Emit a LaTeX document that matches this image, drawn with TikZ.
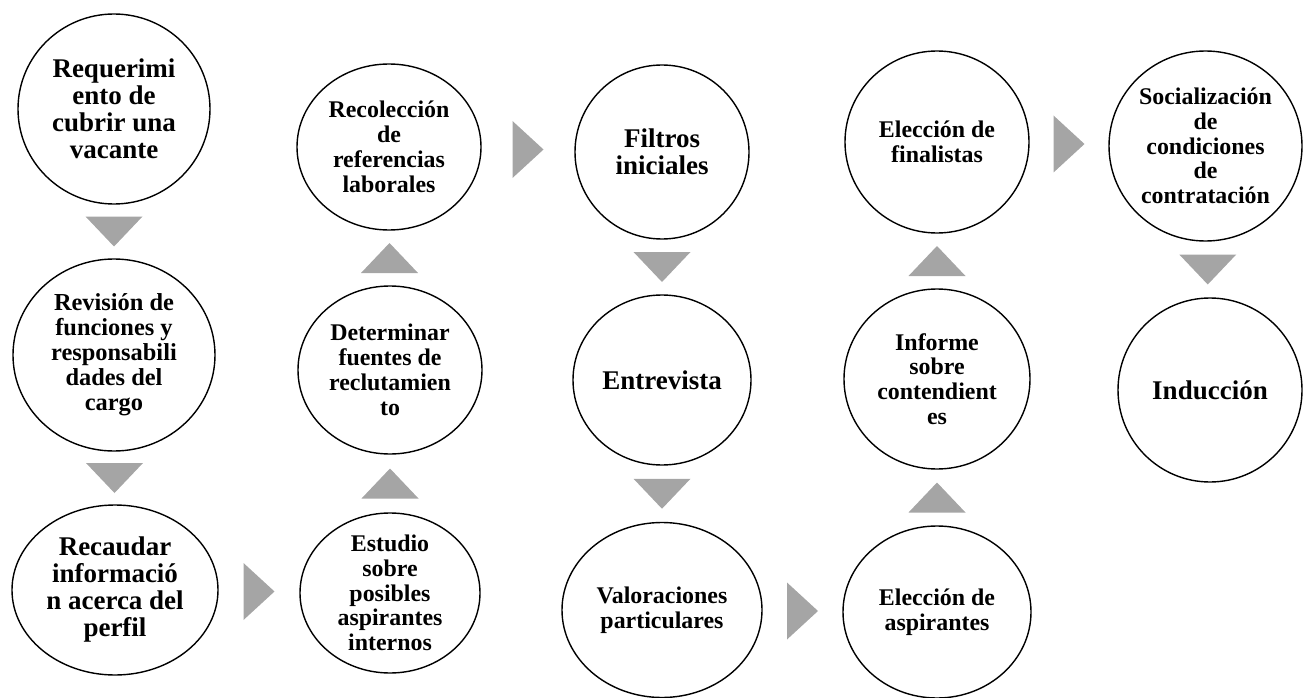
\documentclass[tikz,border=0pt]{standalone}
\usepackage{fontspec}
\setmainfont{Liberation Serif}
\usetikzlibrary{shapes.geometric,calc}
\definecolor{chevron}{HTML}{A5A5A5}
\tikzset{
  stage/.style={ellipse, draw=black, line width=1.4pt, inner sep=0pt},
  biglabel/.style={align=center, inner sep=0pt,
    font=\fontsize{27}{27}\selectfont\bfseries},
  smalllabel/.style={align=center, inner sep=0pt,
    font=\fontsize{23.9}{24.8}\selectfont\bfseries},
}
% #1 name, #2 x, #3 y, #4 width, #5 height, #6 label style, #7 text
\newcommand\stage[7]{%
  \node[stage, minimum width=#4pt, minimum height=#5pt] (#1) at (#2,#3) {};
  \node[#6] (#1-txt) at (#1) {#7};}
\newcommand\chevdown[1]{\fill[chevron] ($(#1)+(-28.5,-15)$) -- ($(#1)+(28.5,-15)$) -- ($(#1)+(0,15)$) -- cycle;}
\newcommand\chevup[1]{\fill[chevron] ($(#1)+(-28.5,15)$) -- ($(#1)+(28.5,15)$) -- ($(#1)+(0,-15)$) -- cycle;}
\newcommand\chevright[1]{\fill[chevron] ($(#1)+(-15.5,-28.5)$) -- ($(#1)+(-15.5,28.5)$) -- ($(#1)+(15.5,0)$) -- cycle;}
\begin{document}
\begin{tikzpicture}[x=1pt, y=-1pt]
\useasboundingbox (0,0) rectangle (1304,698);

% column 1
\stage{c1}{114}{109}{192}{190}{biglabel}{Requerimi\\ento de\\cubrir una\\vacante}
\stage{c2}{114}{355}{202}{192}{smalllabel,font=\fontsize{24.4}{25}\selectfont\bfseries}{Revisión de\\funciones y\\responsabili\\dades del\\cargo}
\stage{c3}{115}{590}{206}{170}{biglabel}{Recaudar\\informació\\n acerca del\\perfil}
% column 2
\stage{c4}{390}{593}{180}{160}{smalllabel}{Estudio\\sobre\\posibles\\aspirantes\\internos}
\stage{c5}{390}{370}{184}{168}{smalllabel}{Determinar\\fuentes de\\reclutamien\\to}
\stage{c6}{389}{147}{184}{166}{smalllabel}{Recolección\\de\\referencias\\laborales}
% column 3
\stage{c7}{662}{152}{174}{174}{biglabel}{Filtros\\iniciales}
\stage{c8}{662}{380}{178}{170}{biglabel}{Entrevista}
\stage{c9}{662}{610}{200}{175}{smalllabel}{Valoraciones\\particulares}
% column 4
\stage{c10}{937}{612}{188}{172}{smalllabel}{Elección de\\aspirantes}
\stage{c11}{937}{379}{186}{180}{smalllabel}{Informe\\sobre\\contendient\\es}
\stage{c12}{937}{142}{184}{182}{smalllabel}{Elección de\\finalistas}
% column 5
\stage{c13}{1205.5}{146}{193}{190}{smalllabel}{Socialización\\de\\condiciones\\de\\contratación}
\stage{c14}{1210}{390}{184}{184}{biglabel}{Inducción}

% chevrons between consecutive stages
\coordinate (k1) at ($(c1.south)!0.5!(c2.north)$);
\coordinate (k2) at ($(c2.south)!0.5!(c3.north)$);
\coordinate (k3) at ($(c3.east)!0.5!(c4.west)$);
\coordinate (k4) at ($(c4.north)!0.5!(c5.south)$);
\coordinate (k5) at ($(c5.north)!0.5!(c6.south)$);
\coordinate (k6) at ($(c6.east)!0.5!(c7.west)$);
\coordinate (k7) at ($(c7.south)!0.5!(c8.north)$);
\coordinate (k8) at ($(c8.south)!0.5!(c9.north)$);
\coordinate (k9) at ($(c9.east)!0.5!(c10.west)$);
\coordinate (k10) at ($(c10.north)!0.5!(c11.south)$);
\coordinate (k11) at ($(c11.north)!0.5!(c12.south)$);
\coordinate (k12) at ($(c12.east)!0.5!(c13.west)$);
\coordinate (k13) at ($(c13.south)!0.5!(c14.north)$);

\chevdown{k1}
\chevdown{k2}
\chevright{k3}
\chevup{k4}
\chevup{k5}
\chevright{k6}
\chevdown{k7}
\chevdown{k8}
\chevright{k9}
\chevup{k10}
\chevup{k11}
\chevright{k12}
\chevdown{k13}
\end{tikzpicture}
\end{document}
